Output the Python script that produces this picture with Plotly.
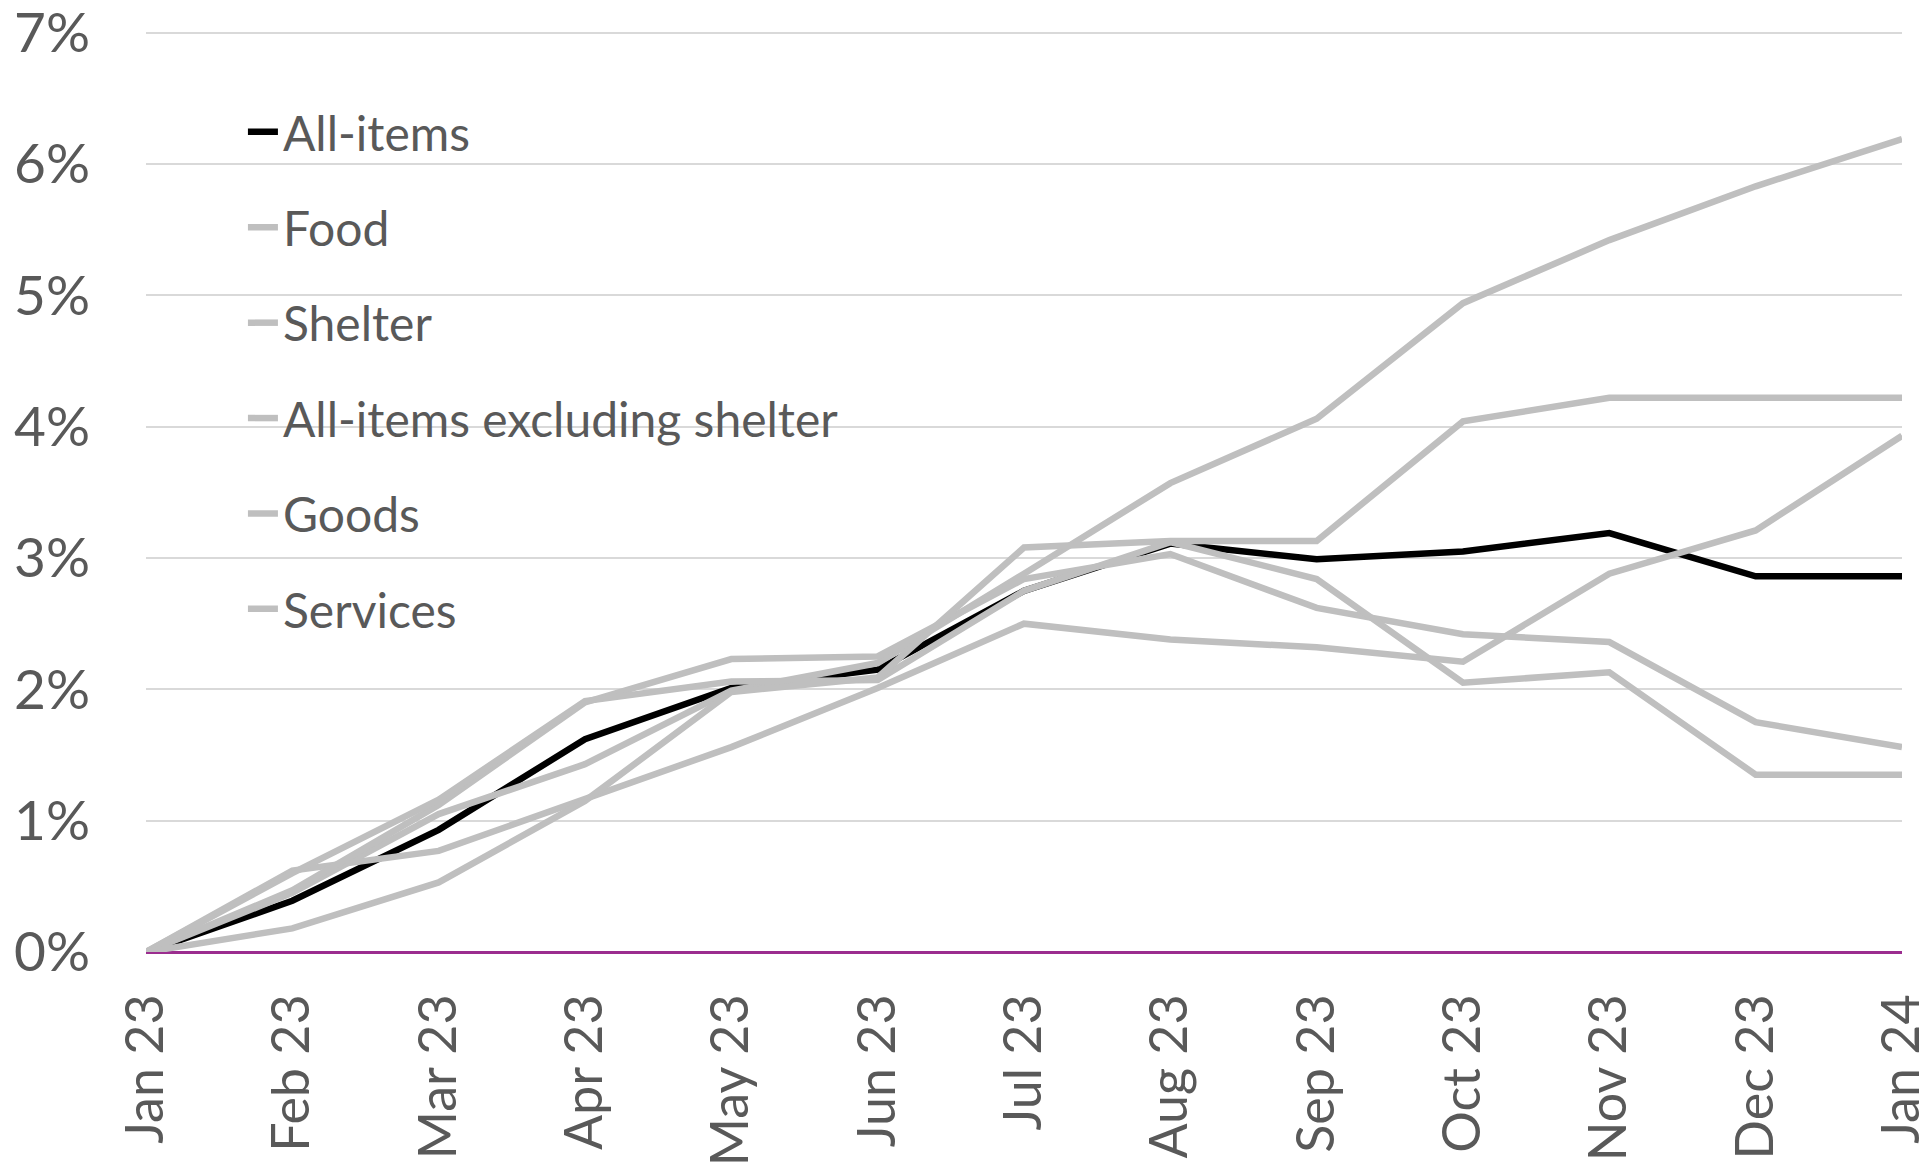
import plotly.graph_objects as go

months = ["Jan 23", "Feb 23", "Mar 23", "Apr 23", "May 23", "Jun 23", "Jul 23",
          "Aug 23", "Sep 23", "Oct 23", "Nov 23", "Dec 23", "Jan 24"]

all_items = [0, 0.39, 0.93, 1.62, 2.01, 2.15, 2.75, 3.11, 2.99, 3.05, 3.19, 2.86, 2.86]
food = [0, 0.62, 0.77, 1.17, 1.56, 2.01, 2.50, 2.38, 2.32, 2.21, 2.88, 3.21, 3.93]
shelter = [0, 0.45, 1.05, 1.43, 1.99, 2.20, 2.88, 3.57, 4.06, 4.94, 5.42, 5.83, 6.19]
excl_shelter = [0, 0.47, 1.12, 1.90, 2.23, 2.25, 2.84, 3.03, 2.62, 2.42, 2.36, 1.75, 1.56]
goods = [0, 0.60, 1.16, 1.91, 2.06, 2.07, 2.75, 3.12, 2.84, 2.05, 2.13, 1.35, 1.35]
services = [0, 0.18, 0.53, 1.15, 1.98, 2.09, 3.08, 3.13, 3.13, 4.04, 4.22, 4.22, 4.22]

series = [
    ("All-items", all_items, "#000000"),
    ("Food", food, "#BFBFBF"),
    ("Shelter", shelter, "#BFBFBF"),
    ("All-items excluding shelter", excl_shelter, "#BFBFBF"),
    ("Goods", goods, "#BFBFBF"),
    ("Services", services, "#BFBFBF"),
]

y_ticks = [0, 1, 2, 3, 4, 5, 6, 7]
y_labels = [f"{v}%" for v in y_ticks]

FONT = "Lato, 'Source Sans Pro', 'Open Sans', sans-serif"
TXT = "#595959"

fig = go.Figure()
for name, vals, col in series:
    fig.add_trace(go.Scatter(
        x=months, y=vals, name=name, mode="lines",
        legendgroup=name,
        line=dict(color=col, width=6.5),
        hovertemplate="%{x}: %{y:.2f}%<extra>" + name + "</extra>",
    ))

fig.update_layout(
    width=1928, height=1173,
    margin=dict(l=138, r=34, t=22, b=229, autoexpand=False),
    paper_bgcolor="white", plot_bgcolor="white",
    font=dict(family=FONT, color=TXT),
    showlegend=True,
    legend=dict(
        x=0.0552, xanchor="left", y=0.9304, yanchor="top",
        font=dict(size=48, color=TXT, family=FONT),
        bgcolor="rgba(0,0,0,0)",
        tracegroupgap=30,
        itemwidth=30,
    ),
    xaxis=dict(
        type="category",
        range=[0, len(months) - 1],
        showgrid=False, showline=False, zeroline=False,
        ticks="", tickangle=-90,
        tickfont=dict(size=52, color=TXT, family=FONT),
        ticklabelstandoff=31,
        automargin=False,
    ),
    yaxis=dict(
        range=[0, 7.02],
        tickvals=y_ticks, ticktext=y_labels,
        showgrid=True, gridcolor="#D9D9D9", gridwidth=2,
        zeroline=True, zerolinecolor="#9B2D8F", zerolinewidth=2.5,
        showline=False, ticks="",
        tickfont=dict(size=55, color=TXT, family=FONT),
        ticklabelstandoff=55,
        ticklabeloverflow="allow",
        automargin=False,
    ),
)

fig.write_html("out.html")
